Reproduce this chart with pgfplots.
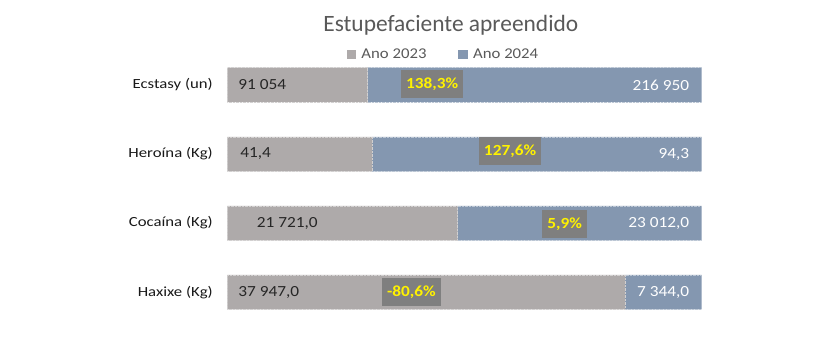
\documentclass[border=0pt]{standalone}
\usepackage{fontspec}
\setmainfont{Carlito}
\newfontfamily\wide[FakeStretch=1.12]{Carlito}
\newfontfamily\widecat[FakeStretch=1.2]{Carlito}
\usepackage{pgfplots}
\usepackage{pgfplotstable}
\pgfplotsset{compat=1.18}
\definecolor{c23}{HTML}{AEAAAA}
\definecolor{c24}{HTML}{8497B0}
\definecolor{boxg}{HTML}{7F7F7F}
\definecolor{ttl}{HTML}{595959}
% raw values a (2023), b (2024); p23/p24 = shares of a+b in percent
\pgfplotstableread{
y a b p23 p24
3 91054 216950 29.562 70.438
2 41.4 94.3 30.508 69.492
1 21721.0 23012.0 48.557 51.443
0 37947.0 7344.0 83.785 16.215
}\drugdata
\tikzset{
  vlab/.style={font=\wide\fontsize{15.5}{17}\selectfont, inner sep=0pt},
  plab/.style={font=\wide\bfseries\fontsize{15.5}{17}\selectfont, fill=boxg, text=yellow, inner xsep=5bp, inner ysep=0pt, minimum height=27.5bp},
}
\begin{document}
\begin{tikzpicture}
\useasboundingbox (0,0) rectangle (830bp,342bp);
\node[anchor=base, text=ttl, font=\fontsize{23.5}{26}\selectfont, inner sep=0pt] at (450.8bp,310.3bp) {Estupefaciente apreendido};
\begin{axis}[
  at={(227.3bp,15.3bp)}, anchor=south west,
  scale only axis, width=474.4bp, height=276.3bp,
  xmin=0, xmax=100, ymin=-0.5, ymax=3.5,
  xbar stacked, bar width=34.5bp,
  axis line style={draw=none}, major tick length=0pt,
  xtick=\empty,
  ytick={0,1,2,3},
  yticklabels={Haxixe (Kg), Cocaína (Kg), Heroína (Kg), Ecstasy (un)},
  yticklabel style={font=\widecat\fontsize{14}{16}\selectfont, text=black!90, xshift=-11bp},
  legend columns=2,
  legend style={at={(0.4557,0.985)}, anchor=center, draw=none, fill=none,
    font=\wide\fontsize{15}{17}\selectfont, text=ttl,
    /tikz/every even column/.append style={column sep=30bp},
    inner sep=0pt},
  legend image code/.code={\fill[#1, draw=none] (0bp,-4.5bp) rectangle (9.5bp,5bp); \path (12.5bp,0bp);},
]
\addplot[fill=c23, draw=c23!55!white, densely dotted, line width=0.4bp] table[y=y, x=p23]{\drugdata};
\addplot[fill=c24, draw=c24!55!white, densely dotted, line width=0.4bp] table[y=y, x=p24]{\drugdata};
\legend{Ano 2023, Ano 2024}
\coordinate (l3) at (axis cs:2.3,3);
\coordinate (l2) at (axis cs:2.7,2);
\coordinate (l1) at (axis cs:6.2,1);
\coordinate (l0) at (axis cs:2.3,0);
\coordinate (r3) at (axis cs:97.4,3);
\coordinate (r2) at (axis cs:97.4,2);
\coordinate (r1) at (axis cs:97.4,1);
\coordinate (r0) at (axis cs:97.4,0);
\coordinate (p3) at (axis cs:43.2,3.01);
\coordinate (p2) at (axis cs:59.6,2.04);
\coordinate (p1) at (axis cs:71.1,0.99);
\coordinate (p0) at (axis cs:38.8,0.0);
\end{axis}
\node[vlab, anchor=west, text=black!85] at (l3) {91 054};
\node[vlab, anchor=west, text=black!85] at (l2) {41,4};
\node[vlab, anchor=west, text=black!85] at (l1) {21 721,0};
\node[vlab, anchor=west, text=black!85] at (l0) {37 947,0};
\node[vlab, anchor=east, text=white] at (r3) {216 950};
\node[vlab, anchor=east, text=white] at (r2) {94,3};
\node[vlab, anchor=east, text=white] at (r1) {23 012,0};
\node[vlab, anchor=east, text=white] at (r0) {7 344,0};
\node[plab] at (p3) {138,3\%};
\node[plab] at (p2) {127,6\%};
\node[plab] at (p1) {5,9\%};
\node[plab] at (p0) {-80,6\%};
\end{tikzpicture}
\end{document}
